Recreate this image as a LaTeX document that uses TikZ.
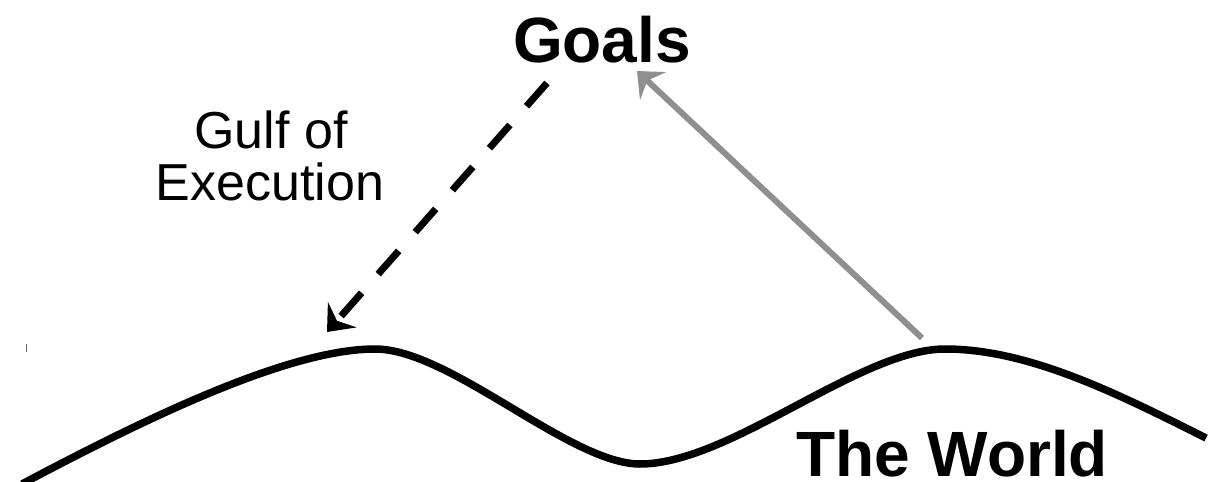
\documentclass[tikz,border=0pt]{standalone}
\usepackage{fontspec}
\setmainfont{Liberation Sans}
\usetikzlibrary{arrows.meta}
\definecolor{feedgray}{HTML}{8F8F8F}
\tikzset{
  bigbold/.style={font=\fontsize{64}{64}\selectfont\bfseries, inner sep=0pt, anchor=base},
  gulflabel/.style={font=\fontsize{52}{52}\selectfont, inner sep=0pt, align=center, anchor=base},
  world/.style={line width=7.5pt, line cap=butt},
  execarrow/.style={line width=7pt, dash pattern=on 31pt off 25pt, -{Stealth[length=23pt,width=38pt,inset=8pt]}},
  evalarrow/.style={line width=6pt, draw=feedgray, -{Stealth[length=22pt,width=38pt,inset=8pt,fill=feedgray]}},
  tick/.style={line width=1pt, draw=black!60}
}
\begin{document}
\begin{tikzpicture}[x=1pt,y=-1pt]
\useasboundingbox (0,0) rectangle (1219,482);
\fill[white] (0,0) rectangle (1219,482);
% texts
\node[bigbold] (goals) at (602,62) {Goals};
\node[bigbold] (theworld) at (952,476) {The World};
\node[gulflabel] (gulf1) at (271,148) {Gulf of};
\node[gulflabel] (gulf2) at (270,200) {Execution};
% the world curve
\draw[world] (22,484) .. controls (150,416) and (290,349) .. (375,349)
  .. controls (450,349) and (570,464) .. (640,464)
  .. controls (730,464) and (860,349) .. (945,349)
  .. controls (1030,349) and (1120,395) .. (1206,438);
% arrow end points
\coordinate (execstart) at (547,83);
\coordinate (peakone) at (327,332);
\coordinate (peaktwo) at (922,338);
\coordinate (goalsin) at (637,71);
\draw[execarrow] (execstart) -- (peakone);
\draw[evalarrow] (peaktwo) -- (goalsin);
% small tick
\coordinate (ticktop) at (26,344);
\coordinate (tickbot) at (26,352);
\draw[tick] (ticktop) -- (tickbot);
\end{tikzpicture}
\end{document}
